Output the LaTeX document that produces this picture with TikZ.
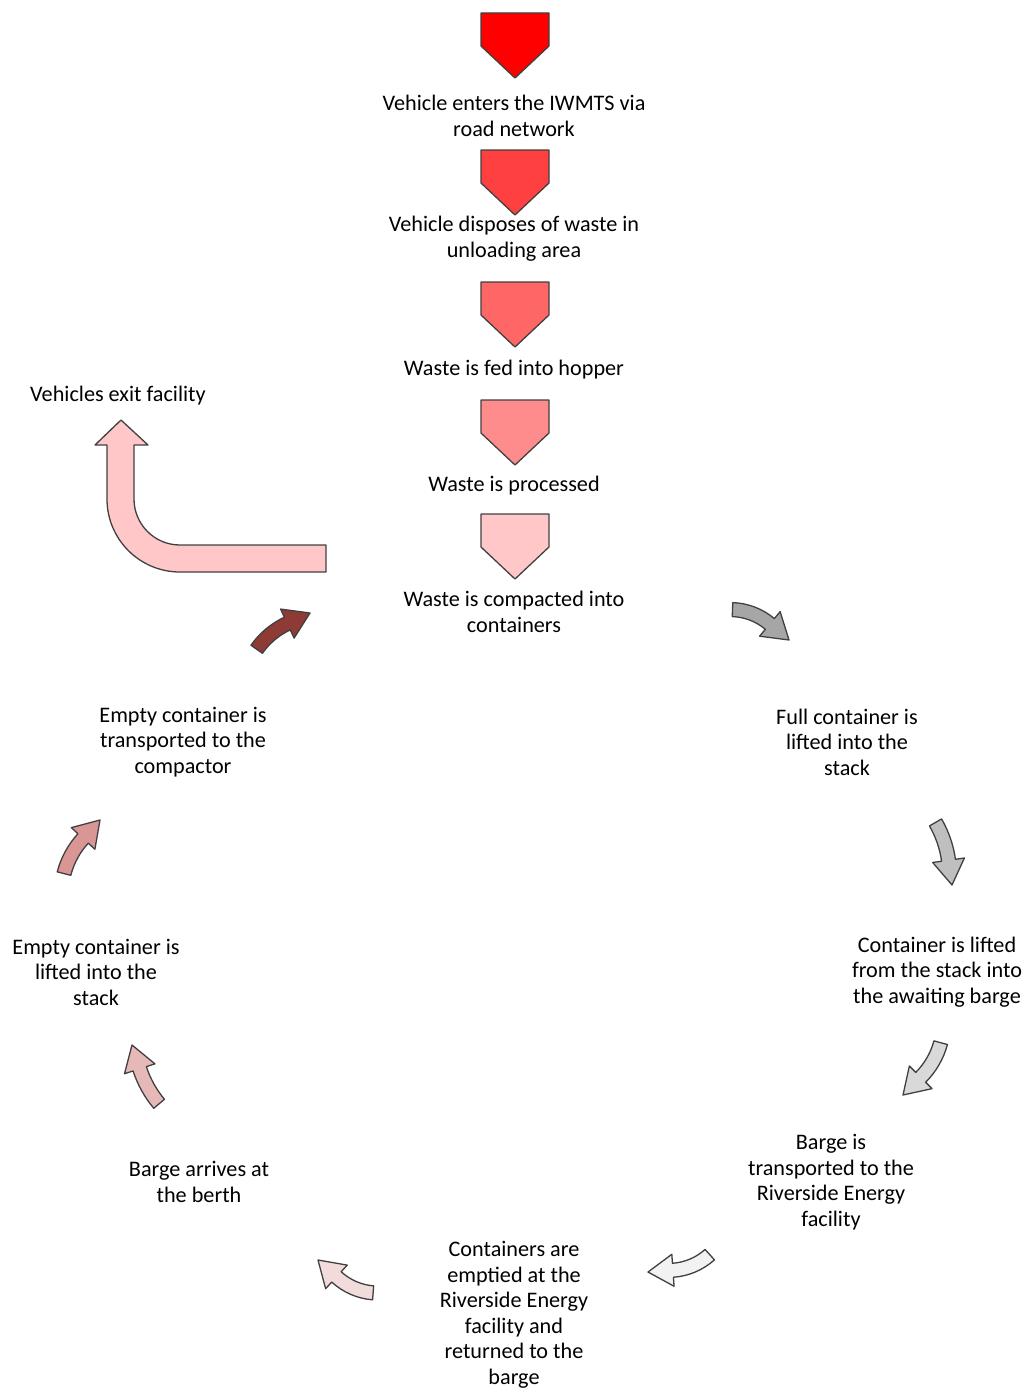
\documentclass[tikz,border=0pt]{standalone}
\usepackage{fontspec}
\setmainfont{Carlito}
\definecolor{cDark}{HTML}{8E3B36}
\definecolor{cG1}{HTML}{A6A6A6}
\definecolor{cG2}{HTML}{BFBFBF}
\definecolor{cG3}{HTML}{D9D9D9}
\definecolor{cG4}{HTML}{F2F2F2}
\definecolor{cP1}{HTML}{F2DCDB}
\definecolor{cP2}{HTML}{E6B9B8}
\definecolor{cP3}{HTML}{D99694}
\definecolor{r1}{HTML}{FF0000}
\definecolor{r2}{HTML}{FF4040}
\definecolor{r3}{HTML}{FF6666}
\definecolor{r4}{HTML}{FF8C8C}
\definecolor{r5}{HTML}{FFC7C7}
\tikzset{
  outl/.style={draw=black!75, line width=1.3pt, line join=round},
  lbl/.style={align=center, inner sep=0pt, font=\fontsize{22.2}{25.5}\selectfont},
}
% pentagon: top y (px, downwards), colour
\newcommand\pentArrow[2]{%
  \filldraw[outl, fill=#2] (481,-#1) -- (549,-#1) -- (549,{-(#1+33)}) -- (515,{-(#1+65)}) -- (481,{-(#1+33)}) -- cycle;}
% curved block arrow: tip x, tip y (px, downwards), heading, colour, turn angle
\newcommand\curvArrow[5]{%
  \begin{scope}[shift={(#1,-#2)},rotate=#3]
    \pgfmathsetmacro\cR{20/sin(#5/2)}
    \filldraw[outl, fill=#4] (0,0) -- (-25,16) -- (-25,7)
      arc[start angle=90, end angle={90+#5}, radius={\cR+7}]
      -- ++({270+#5}:14)
      arc[start angle={90+#5}, end angle=90, radius={\cR-7}]
      -- (-25,-7) -- (-25,-16) -- cycle;
  \end{scope}}
\begin{document}
\begin{tikzpicture}[x=1pt,y=1pt]
\useasboundingbox (0,0) rectangle (1025,-1389);
% vertical pentagon arrows
\pentArrow{13}{r1}
\pentArrow{150}{r2}
\pentArrow{282}{r3}
\pentArrow{400}{r4}
\pentArrow{514}{r5}
% bent exit arrow
\filldraw[outl, fill=r5] (326,-545) -- (180,-545)
  arc[start angle=270, end angle=180, radius=46]
  -- (134,-445) -- (148,-445) -- (121,-420) -- (95,-445) -- (107,-445) -- (107,-499)
  arc[start angle=180, end angle=270, radius=73]
  -- (326,-572) -- cycle;
% cycle arrows
\curvArrow{310}{613}{25}{cDark}{30}
\curvArrow{789}{640}{-40}{cG1}{38}
\curvArrow{952}{885}{-82}{cG2}{22}
\curvArrow{903}{1095}{-135}{cG3}{30}
\curvArrow{648}{1272}{-176}{cG4}{38}
\curvArrow{318}{1260}{137.5}{cP1}{38}
\curvArrow{132}{1045}{108}{cP2}{22}
\curvArrow{100}{820}{47.5}{cP3}{28}
% labels
\node[lbl] (t1) at (514,-116) {Vehicle enters the IWMTS via\\road network};
\node[lbl] (t2) at (514,-238.5) {Vehicle disposes of waste in\\unloading area};
\node[lbl] (t3) at (514,-370) {Waste is fed into hopper};
\node[lbl] (t4) at (514,-486) {Waste is processed};
\node[lbl] (t5) at (514,-612) {Waste is compacted into\\containers};
\node[lbl] (t6) at (118,-396) {Vehicles exit facility};
\node[lbl] (t7) at (847,-742) {Full container is\\lifted into the\\stack};
\node[lbl] (t8) at (937,-972) {Container is lifted\\from the stack into\\the awaiting barge};
\node[lbl] (t9) at (831,-1182) {Barge is\\transported to the\\Riverside Energy\\facility};
\node[lbl] (t10) at (514,-1315) {Containers are\\emptied at the\\Riverside Energy\\facility and\\returned to the\\barge};
\node[lbl] (t11) at (199,-1182) {Barge arrives at\\the berth};
\node[lbl] (t12) at (96,-972) {Empty container is\\lifted into the\\stack};
\node[lbl] (t13) at (183,-742) {Empty container is\\transported to the\\compactor};
\end{tikzpicture}
\end{document}
